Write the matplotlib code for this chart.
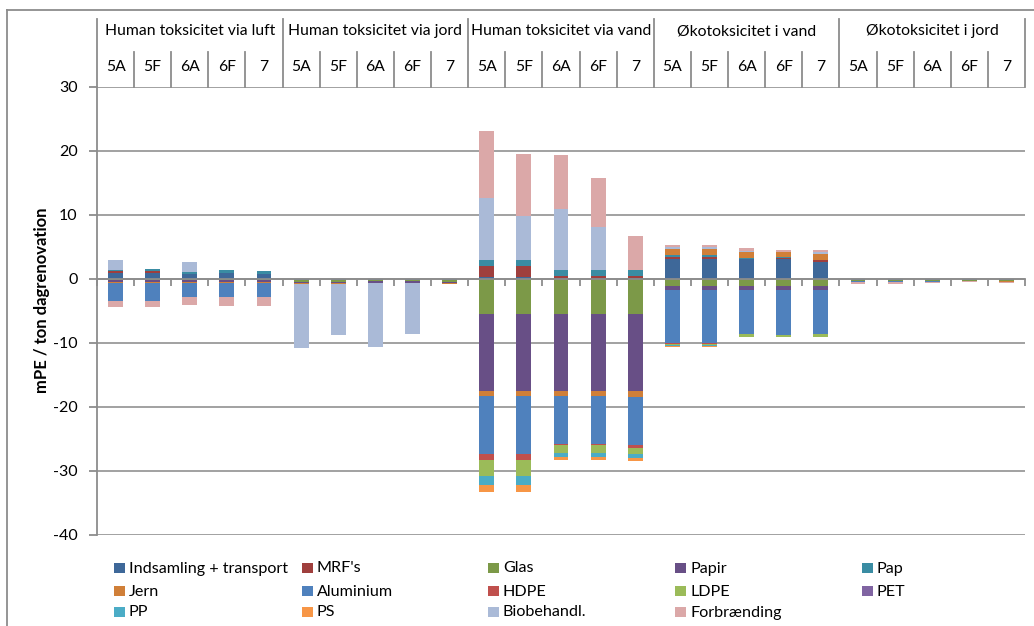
import matplotlib
matplotlib.use("Agg")
import matplotlib.pyplot as plt
import matplotlib.transforms as mtransforms
from matplotlib.lines import Line2D
from matplotlib.patches import Rectangle
import numpy as np

plt.rcParams['font.family'] = ['Lato', 'DejaVu Sans']
plt.rcParams['axes.unicode_minus'] = False

groups = ["Human toksicitet via luft", "Human toksicitet via jord",
          "Human toksicitet via vand", "Økotoksicitet i vand", "Økotoksicitet i jord"]
scenarios = ["5A", "5F", "6A", "6F", "7"]

series_names = ["Indsamling + transport", "MRF's", "Glas", "Papir", "Pap",
                "Jern", "Aluminium", "HDPE", "LDPE", "PET",
                "PP", "PS", "Biobehandl.", "Forbrænding"]
series_colors = ["#3E6899", "#9F3F3D", "#7C9948", "#684F86", "#3A8CA3",
                 "#D07F38", "#4F81BD", "#C0504D", "#9BBB59", "#8064A2",
                 "#4BACC6", "#F79646", "#AABAD7", "#DBA8A8"]

# mPE / ton per fraction; 5 groups x 5 scenarios
indsamling = [0.9, 0.9, 0.85, 1.0, 0.85,  -0.2, -0.2, -0.2, -0.2, -0.2,
              0.3, 0.3, 0.2, 0.2, 0.2,  3.1, 3.1, 3.2, 3.1, 2.7,
              -0.15, -0.15, -0.15, -0.15, -0.15]
mrf = [0.35, 0.35, 0, 0, 0,  0, 0, 0, 0, 0,
       1.75, 1.75, 0.3, 0.3, 0.3,  0.4, 0.4, 0, 0.15, 0.25,
       0, 0, 0, 0, 0]
glas = [-0.2, -0.2, -0.2, -0.2, -0.2,  -0.25, -0.25, -0.1, -0.1, -0.25,
        -5.5, -5.5, -5.5, -5.5, -5.5,  -1.1, -1.1, -1.1, -1.1, -1.1,
        -0.15, -0.15, -0.2, -0.2, -0.2]
papir = [-0.2, -0.2, -0.2, -0.2, -0.2,  -0.15, -0.15, -0.4, -0.4, -0.15,
         -12.0, -12.0, -12.0, -12.0, -12.0,  -0.6, -0.6, -0.6, -0.6, -0.6,
         0, 0, 0, 0, 0]
pap = [0.15, 0.3, 0.2, 0.4, 0.35,  0, 0, 0, 0, 0,
       0.95, 0.95, 0.9, 0.9, 0.9,  0.25, 0.25, 0.15, 0.15, 0,
       0, 0, 0, 0, 0]
jern = [-0.28, -0.28, -0.28, -0.28, -0.28,  -0.2, -0.2, 0, 0, -0.25,
        -0.83, -0.83, -0.83, -0.83, -1.0,  0.95, 0.95, 0.85, 0.8, 1.0,
        0, 0, 0, 0, -0.05]
aluminium = [-2.75, -2.75, -2.2, -2.2, -2.15,  0, 0, 0, 0, 0,
             -9.06, -9.06, -7.45, -7.45, -7.5,  -8.3, -8.3, -6.9, -7.0, -6.9,
             -0.15, -0.15, -0.05, 0, 0]
hdpe = [0, 0, 0, 0, 0,  0, 0, 0, 0, 0,
        -0.9, -0.9, -0.2, -0.2, -0.4,  -0.15, -0.15, 0, 0, 0,
        0, 0, 0, 0, 0]
ldpe = [0, 0, 0, 0, 0,  0, 0, 0, 0, 0,
        -2.45, -2.45, -1.25, -1.25, -1.0,  -0.15, -0.15, -0.4, -0.35, -0.4,
        0, 0, 0, 0, 0]
pet = [0] * 25
pp = [0, 0, 0, 0, 0,  0, 0, 0, 0, 0,
      -1.45, -1.45, -0.6, -0.6, -0.6,  -0.15, -0.15, 0, 0, 0,
      0, 0, 0, 0, 0]
ps = [0, 0, 0, 0, 0,  0, 0, 0, 0, 0,
      -1.05, -1.05, -0.4, -0.4, -0.45,  -0.2, -0.2, 0, 0, 0,
      0, 0, 0, 0, 0]
biobehandl = [1.55, 0, 1.55, 0, 0,  -10.0, -8.0, -10.0, -7.9, 0,
              9.7, 6.8, 9.6, 6.8, 0,  0.3, 0.3, 0.25, 0, 0.2,
              0, 0, 0, 0, 0]
forbraending = [-1.0, -1.0, -1.2, -1.35, -1.4,  0, 0, 0, 0, 0,
                10.35, 9.8, 8.35, 7.6, 5.3,  0.3, 0.3, 0.4, 0.4, 0.45,
                -0.3, -0.3, -0.25, -0.15, -0.2]

series_values = [indsamling, mrf, glas, papir, pap, jern, aluminium, hdpe,
                 ldpe, pet, pp, ps, biobehandl, forbraending]

W, H = 1034, 626
fig = plt.figure(figsize=(W / 100, H / 100), dpi=100)
ax = fig.add_axes([97 / W, 1 - 535 / H, (1025 - 97) / W, (535 - 87) / H])

n = len(groups) * len(scenarios)
x = np.arange(n)
pos_base = np.zeros(n)
neg_base = np.zeros(n)
for name, color, vals in zip(series_names, series_colors, series_values):
    v = np.asarray(vals, dtype=float)
    pos = np.where(v > 0, v, 0)
    neg = np.where(v < 0, v, 0)
    ax.bar(x, pos, 0.4, bottom=pos_base, color=color, linewidth=0, zorder=3)
    ax.bar(x, neg, 0.4, bottom=neg_base, color=color, linewidth=0, zorder=3)
    pos_base += pos
    neg_base += neg

ax.set_xlim(-0.5, n - 0.5)
ax.set_ylim(-40, 30)
ax.set_yticks(np.arange(-40, 31, 10))
ax.grid(axis='y', color='#9a9a9a', linewidth=1.3, zorder=0)
ax.set_axisbelow(True)

for s in ['top', 'right']:
    ax.spines[s].set_visible(False)
ax.spines['left'].set_color('#8c8c8c')
ax.spines['left'].set_linewidth(1.3)
ax.spines['bottom'].set_position(('data', 0))
ax.spines['bottom'].set_color('#8c8c8c')
ax.spines['bottom'].set_linewidth(1.3)
ax.spines['bottom'].set_zorder(4)

ax.set_xticks(np.arange(-0.5, n, 1.0))
ax.set_xticklabels([])
ax.tick_params(axis='x', direction='out', length=5, width=1.3, color='#8c8c8c')
ax.tick_params(axis='y', direction='out', length=6, width=1.3, color='#8c8c8c',
               labelsize=11.5, pad=8, labelcolor='#000000')

fig.text(42 / W, 1 - 300 / H, "mPE / ton dagrenovation", rotation=90,
         ha='center', va='center', fontsize=12, fontweight='bold')

# category header above the plot
hdr = mtransforms.blended_transform_factory(ax.transData, fig.transFigure)
y_top = 1 - 19 / H
y_mid = 1 - 52 / H
y_bot = 1 - 87 / H
line_kw = dict(color='#8c8c8c', linewidth=1.3, transform=hdr, clip_on=False)
ax.add_line(Line2D([-0.5, -0.5], [y_top, y_bot], **line_kw))
for gi, g in enumerate(groups):
    left = gi * 5 - 0.5
    ax.add_line(Line2D([left + 5, left + 5], [y_top, y_bot], **line_kw))
    ax.text(left + 2.5, 1 - 31 / H, g, transform=hdr, ha='center', va='center',
            fontsize=11.3)
    for si, s in enumerate(scenarios):
        c = gi * 5 + si
        if si > 0:
            ax.add_line(Line2D([c - 0.5, c - 0.5], [y_mid, y_bot], **line_kw))
        ax.text(c, 1 - 67 / H, s, transform=hdr, ha='center', va='center',
                fontsize=11.3)

# chart area border (left and top edges)
fig.add_artist(Line2D([7 / W, 7 / W], [0, 1 - 10 / H], color='#8c8c8c',
                      linewidth=1.3, transform=fig.transFigure))
fig.add_artist(Line2D([7 / W, 1], [1 - 10 / H, 1 - 10 / H], color='#8c8c8c',
                      linewidth=1.3, transform=fig.transFigure))

# legend, row-major in five evenly spaced columns
col_x = [114, 302, 488, 675, 862]
row_y = [568, 591, 612]
for i, (name, color) in enumerate(zip(series_names, series_colors)):
    r, c = divmod(i, 5)
    px, py = col_x[c], row_y[r]
    fig.add_artist(Rectangle((px / W, 1 - (py + 5) / H), 11 / W, 10 / H,
                             facecolor=color, edgecolor='none',
                             transform=fig.transFigure))
    fig.text((px + 15) / W, 1 - (py + 0.5) / H, name, ha='left', va='center',
             fontsize=11.6)

fig.savefig("out.png", dpi=100)
